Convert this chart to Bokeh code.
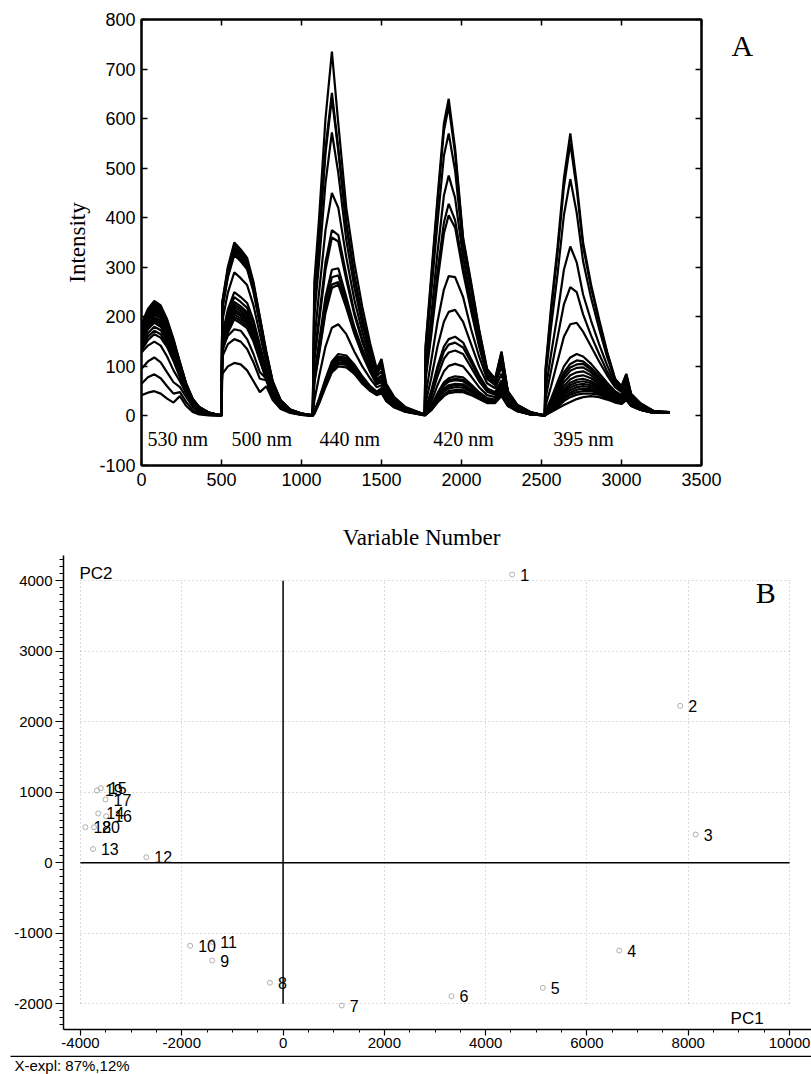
from bokeh.plotting import figure
from bokeh.models import (LinearAxis, FixedTicker, SingleIntervalTicker, Label, Range1d)
from bokeh.embed import file_html
from bokeh.resources import INLINE
from bokeh.core.properties import value

SANS = "Liberation Sans"
SERIF = "Liberation Serif"

# ---------------- Panel A data: fluorescence spectra of 20 samples ----------------
# variable-number grid of each excitation segment
x_530 = [0, 40, 80, 120, 160, 200, 240, 280, 320, 360, 420, 500]
x_500 = [505, 540, 580, 620, 660, 700, 740, 780, 820, 870, 930, 1000, 1070]
x_440 = [1080, 1110, 1150, 1190, 1230, 1280, 1330, 1380, 1430, 1470, 1500, 1530, 1580, 1650, 1770]
x_420 = [1775, 1810, 1850, 1890, 1920, 1960, 2010, 2060, 2110, 2160, 2210, 2250, 2290, 2350, 2430, 2520]
x_395 = [2525, 2560, 2600, 2640, 2680, 2720, 2760, 2810, 2860, 2910, 2960, 3000, 3030, 3060, 3120, 3200, 3300]

# intensities, one row per sample (1..20)
y_530 = [
    [42, 47, 50, 45, 35, 27, 40, 20, 8, 3, 1, 0],
    [65, 78, 84, 76, 60, 45, 48, 28, 12, 5, 2, 0],
    [95, 110, 118, 108, 88, 68, 58, 38, 18, 8, 3, 1],
    [128, 142, 150, 142, 120, 92, 70, 45, 22, 10, 4, 1],
    [132, 153, 165, 158, 139, 111, 78, 46, 25, 13, 5, 1],
    [138, 160, 172, 165, 144, 115, 81, 48, 26, 13, 5, 1],
    [144, 167, 180, 173, 151, 121, 85, 50, 27, 14, 5, 1],
    [150, 175, 188, 180, 158, 126, 88, 53, 28, 15, 6, 1],
    [154, 179, 192, 184, 161, 129, 90, 54, 29, 15, 6, 1],
    [157, 182, 196, 188, 165, 131, 92, 55, 29, 15, 6, 1],
    [160, 186, 200, 192, 168, 134, 94, 56, 30, 16, 6, 1],
    [164, 191, 205, 197, 172, 137, 96, 57, 31, 16, 6, 1],
    [166, 193, 208, 200, 175, 139, 98, 58, 31, 16, 6, 1],
    [170, 197, 212, 204, 178, 142, 100, 59, 32, 17, 6, 1],
    [172, 200, 215, 206, 181, 144, 101, 60, 32, 17, 6, 1],
    [174, 203, 218, 209, 183, 146, 102, 61, 33, 17, 7, 1],
    [178, 206, 222, 213, 186, 149, 104, 62, 33, 17, 7, 1],
    [180, 209, 225, 216, 189, 151, 106, 63, 34, 18, 7, 1],
    [182, 212, 228, 219, 192, 153, 107, 64, 34, 18, 7, 1],
    [186, 216, 232, 223, 195, 155, 109, 65, 35, 18, 7, 1],
]
y_500 = [
    [85, 100, 107, 104, 92, 70, 48, 60, 32, 14, 6, 2, 0],
    [120, 145, 155, 150, 135, 108, 75, 72, 40, 17, 7, 2, 0],
    [135, 162, 175, 172, 155, 125, 88, 75, 45, 19, 7, 3, 0],
    [129, 168, 195, 187, 177, 150, 111, 72, 39, 18, 7, 3, 1],
    [132, 172, 200, 192, 182, 154, 114, 74, 40, 18, 7, 3, 1],
    [135, 176, 205, 197, 187, 158, 117, 76, 41, 18, 8, 3, 1],
    [139, 181, 210, 202, 191, 162, 120, 78, 42, 19, 8, 3, 1],
    [142, 185, 215, 206, 196, 166, 123, 80, 43, 19, 8, 3, 1],
    [145, 189, 220, 211, 200, 169, 125, 81, 44, 20, 8, 3, 1],
    [149, 194, 225, 216, 205, 173, 128, 83, 45, 20, 8, 3, 1],
    [152, 198, 230, 221, 209, 177, 131, 85, 46, 21, 9, 3, 1],
    [158, 206, 240, 230, 218, 185, 137, 89, 48, 22, 9, 3, 1],
    [165, 215, 250, 240, 228, 193, 143, 93, 50, 23, 9, 4, 1],
    [191, 249, 290, 278, 264, 223, 165, 107, 58, 26, 11, 4, 1],
    [215, 280, 325, 312, 296, 250, 185, 120, 65, 29, 12, 5, 1],
    [218, 284, 330, 317, 300, 254, 188, 122, 66, 30, 12, 5, 1],
    [221, 288, 335, 322, 305, 258, 191, 124, 67, 30, 12, 5, 1],
    [224, 292, 340, 326, 309, 262, 194, 126, 68, 31, 13, 5, 1],
    [228, 297, 345, 331, 314, 266, 197, 128, 69, 31, 13, 5, 1],
    [231, 301, 350, 336, 319, 270, 200, 130, 70, 32, 13, 5, 1],
]
y_440 = [
    [200, 310, 470, 572, 490, 355, 260, 185, 125, 85, 100, 56, 33, 16, 3],
    [270, 400, 600, 735, 590, 420, 310, 220, 145, 95, 115, 65, 38, 18, 3],
    [240, 360, 540, 652, 540, 390, 285, 200, 135, 90, 110, 60, 35, 17, 3],
    [235, 350, 530, 642, 535, 385, 280, 198, 132, 88, 105, 58, 34, 16, 3],
    [150, 250, 375, 450, 420, 320, 235, 170, 115, 80, 90, 52, 30, 15, 3],
    [120, 200, 310, 375, 365, 285, 210, 155, 105, 74, 82, 48, 28, 14, 2],
    [110, 190, 295, 360, 352, 275, 205, 150, 102, 72, 80, 47, 27, 14, 2],
    [80, 150, 240, 295, 298, 240, 180, 135, 95, 68, 75, 44, 26, 13, 2],
    [75, 140, 228, 280, 284, 230, 175, 130, 92, 66, 72, 43, 25, 13, 2],
    [70, 130, 215, 265, 270, 222, 170, 126, 90, 65, 70, 42, 25, 12, 2],
    [65, 125, 208, 258, 265, 218, 166, 124, 88, 64, 68, 41, 24, 12, 2],
    [30, 80, 140, 178, 185, 165, 130, 100, 75, 58, 62, 38, 22, 11, 2],
    [8, 35, 75, 110, 125, 122, 104, 80, 60, 49, 56, 35, 20, 10, 2],
    [7, 32, 72, 106, 120, 118, 100, 77, 58, 48, 54, 34, 20, 10, 2],
    [7, 31, 70, 104, 118, 116, 98, 76, 57, 47, 53, 33, 19, 10, 2],
    [6, 30, 68, 101, 115, 113, 96, 74, 56, 46, 52, 33, 19, 9, 2],
    [6, 29, 66, 98, 112, 110, 94, 72, 55, 45, 51, 32, 19, 9, 2],
    [5, 28, 63, 95, 108, 106, 91, 70, 53, 44, 50, 31, 18, 9, 2],
    [5, 27, 61, 92, 105, 103, 88, 68, 52, 43, 48, 31, 18, 9, 1],
    [4, 25, 58, 88, 100, 98, 85, 65, 50, 42, 46, 30, 17, 8, 1],
]
y_420 = [
    [140, 280, 440, 590, 640, 540, 360, 270, 175, 95, 75, 130, 50, 22, 8, 1],
    [135, 272, 430, 575, 625, 530, 355, 265, 172, 93, 74, 128, 49, 22, 8, 1],
    [120, 245, 390, 525, 570, 495, 340, 255, 165, 90, 72, 122, 48, 21, 8, 1],
    [95, 200, 330, 445, 485, 440, 320, 235, 155, 86, 70, 115, 46, 20, 7, 1],
    [80, 170, 290, 390, 428, 395, 300, 220, 145, 82, 68, 110, 45, 20, 7, 1],
    [72, 160, 272, 368, 405, 380, 290, 212, 140, 80, 66, 108, 44, 19, 7, 1],
    [40, 110, 190, 255, 282, 280, 240, 175, 120, 75, 62, 100, 40, 18, 6, 1],
    [25, 75, 140, 190, 210, 214, 190, 145, 100, 66, 56, 85, 36, 16, 6, 1],
    [14, 50, 100, 140, 155, 160, 148, 115, 82, 56, 48, 72, 32, 15, 5, 1],
    [12, 45, 92, 130, 144, 148, 138, 108, 77, 53, 46, 68, 30, 14, 5, 1],
    [10, 38, 80, 115, 128, 132, 125, 98, 70, 49, 43, 64, 28, 13, 5, 1],
    [6, 28, 62, 90, 101, 105, 100, 80, 58, 42, 38, 58, 26, 12, 4, 1],
    [4, 20, 46, 68, 76, 80, 78, 64, 48, 36, 33, 52, 24, 11, 4, 1],
    [4, 18, 43, 64, 72, 75, 73, 60, 45, 34, 32, 50, 23, 11, 4, 1],
    [3, 17, 41, 61, 69, 72, 70, 58, 44, 33, 31, 48, 22, 11, 4, 1],
    [3, 15, 37, 55, 62, 65, 64, 53, 41, 31, 30, 46, 22, 10, 3, 1],
    [3, 14, 35, 52, 59, 62, 61, 51, 40, 30, 29, 45, 21, 10, 3, 1],
    [2, 13, 33, 49, 55, 58, 57, 48, 38, 29, 28, 44, 21, 10, 3, 1],
    [2, 12, 29, 44, 50, 52, 52, 44, 35, 27, 27, 42, 20, 10, 3, 1],
    [2, 11, 27, 40, 46, 48, 48, 42, 34, 26, 26, 40, 20, 9, 3, 1],
]
y_395 = [
    [95, 220, 340, 480, 570, 470, 350, 265, 195, 130, 75, 60, 85, 45, 25, 10, 8],
    [90, 210, 328, 462, 550, 458, 342, 258, 190, 127, 74, 59, 84, 44, 25, 10, 8],
    [75, 180, 285, 405, 478, 410, 312, 238, 176, 119, 71, 57, 80, 43, 24, 10, 8],
    [50, 125, 205, 295, 342, 310, 245, 192, 145, 102, 66, 53, 74, 40, 22, 9, 7],
    [35, 92, 158, 225, 260, 250, 205, 162, 125, 90, 62, 50, 70, 38, 21, 9, 7],
    [20, 60, 110, 160, 185, 188, 170, 140, 110, 82, 58, 48, 65, 36, 20, 9, 7],
    [10, 35, 68, 100, 118, 125, 120, 105, 86, 67, 50, 42, 58, 32, 18, 8, 7],
    [8, 30, 60, 88, 105, 112, 110, 97, 80, 63, 48, 40, 55, 31, 17, 8, 7],
    [7, 28, 55, 82, 98, 104, 105, 93, 77, 61, 46, 39, 53, 30, 17, 8, 7],
    [6, 25, 50, 76, 91, 97, 98, 88, 73, 58, 44, 37, 51, 29, 16, 8, 7],
    [5, 22, 45, 68, 82, 88, 90, 82, 69, 55, 42, 35, 48, 28, 16, 7, 6],
    [5, 20, 40, 60, 74, 80, 82, 76, 65, 52, 40, 33, 46, 27, 15, 7, 6],
    [4, 18, 36, 54, 67, 73, 75, 70, 61, 49, 38, 32, 44, 26, 15, 7, 6],
    [4, 16, 33, 50, 62, 68, 70, 66, 58, 47, 36, 31, 42, 25, 14, 7, 6],
    [3, 15, 30, 46, 57, 63, 65, 62, 55, 45, 35, 30, 40, 24, 14, 7, 6],
    [3, 13, 27, 42, 52, 58, 60, 58, 52, 43, 33, 28, 38, 23, 13, 6, 6],
    [3, 12, 24, 38, 47, 53, 55, 54, 49, 41, 32, 27, 36, 22, 13, 6, 6],
    [2, 10, 21, 34, 43, 48, 50, 50, 46, 38, 30, 26, 34, 21, 12, 6, 6],
    [2, 9, 18, 30, 38, 43, 45, 45, 43, 36, 29, 25, 33, 20, 12, 6, 6],
    [2, 8, 15, 22, 28, 34, 38, 40, 38, 33, 27, 24, 32, 20, 12, 6, 6],
]

wavelength_labels = ["530 nm", "500 nm", "440 nm", "420 nm", "395 nm"]
wavelength_label_x = [37, 562, 1112, 1823, 2573]
wavelength_label_y = [-46, -46, -46, -46, -46]

a_xticks = [0, 500, 1000, 1500, 2000, 2500, 3000, 3500]
a_yticks = [-100, 0, 100, 200, 300, 400, 500, 600, 700, 800]
panel_a_letter = "A"
panel_a_letter_y = 748

# ---------------- Panel B data: PCA scores ----------------
sample_labels = [str(i) for i in range(1, 21)]
pc1 = [4523, 7841, 8146, 6637, 5128, 3325, 1158, -260, -1399, -1835,
       -1400, -2700, -3754, -3650, -3598, -3494, -3507, -3904, -3676, -3734]
pc2 = [4089, 2227, 401, -1244, -1773, -1892, -2024, -1702, -1386, -1177,
       -1120, 80, 195, 700, 1058, 661, 898, 505, 1026, 505]
b_xticks_neg = {-4000: "-4000", -2000: "-2000"}
b_yticks_neg = {-1000: "-1000", -2000: "-2000"}
explained_text = "X-expl: 87%,12%"
b_x_start, b_x_end = -4336, 10434

# ---------------- build curves ----------------
seg_x = [x_530, x_500, x_440, x_420, x_395]
seg_y = [y_530, y_500, y_440, y_420, y_395]
curve_xs, curve_ys = [], []
for i in range(len(sample_labels)):
    cx, cy = [], []
    for sx, sy in zip(seg_x, seg_y):
        cx += sx
        cy += sy[i]
    curve_xs.append(cx)
    curve_ys.append(cy)

# ---------------- Panel A ----------------
pA = figure(width=811, height=552, x_range=Range1d(0, 3500), y_range=Range1d(-100, 800),
            output_backend="svg", toolbar_location=None,
            min_border_left=141, min_border_right=110, min_border_top=19, min_border_bottom=87)
pA.grid.visible = False
pA.outline_line_color = "black"
pA.outline_line_width = 2
pA.multi_line(xs=curve_xs, ys=curve_ys, line_color="black", line_width=2.2)

pA.text(x=wavelength_label_x, y=wavelength_label_y, text=wavelength_labels,
        text_font=value(SERIF), text_font_size="20px", text_color="black",
        text_baseline="alphabetic", text_align="left")

pA.xaxis.ticker = FixedTicker(ticks=a_xticks)
pA.yaxis.ticker = FixedTicker(ticks=a_yticks)
for ax in (pA.xaxis[0], pA.yaxis[0]):
    ax.axis_line_color = "black"
    ax.axis_line_width = 2
    ax.major_tick_in = 6
    ax.major_tick_out = 0
    ax.major_tick_line_width = 1.5
    ax.major_tick_line_color = "black"
    ax.minor_tick_line_color = None
    ax.major_label_text_font = SANS
    ax.major_label_text_font_size = "18px"
    ax.major_label_text_color = "black"
    ax.axis_label_text_font = SERIF
    ax.axis_label_text_font_size = "23px"
    ax.axis_label_text_font_style = "normal"
    ax.axis_label_text_color = "black"
pA.xaxis.axis_label = "Variable Number"
pA.yaxis.axis_label = "Intensity"
pA.xaxis.major_label_standoff = 7
pA.yaxis.major_label_standoff = 6
pA.xaxis.axis_label_standoff = 36
pA.yaxis.axis_label_standoff = 6
pA.yaxis.major_label_overrides = {-100: "-100"}


def tick_only_axis(ticks):
    return LinearAxis(ticker=FixedTicker(ticks=ticks), major_label_text_color=None,
                      major_label_text_font_size="1px", major_label_standoff=0,
                      major_tick_in=6, major_tick_out=0, major_tick_line_width=1.5,
                      minor_tick_line_color=None, axis_line_width=2)


pA.add_layout(tick_only_axis(a_xticks), "above")
pA.add_layout(tick_only_axis(a_yticks), "right")
letter_ax = LinearAxis(ticker=FixedTicker(ticks=[panel_a_letter_y]),
                       major_label_overrides={panel_a_letter_y: panel_a_letter},
                       axis_line_color=None, major_tick_line_color=None,
                       minor_tick_line_color=None, major_tick_out=0, major_tick_in=0,
                       major_label_standoff=30, major_label_text_font=SERIF,
                       major_label_text_font_size="30px", major_label_text_color="black",
                       major_label_orientation="horizontal")
pA.add_layout(letter_ax, "right")

# ---------------- Panel B ----------------
pB = figure(width=811, height=503, x_range=Range1d(b_x_start, b_x_end),
            y_range=Range1d(-2364, 4359),
            output_backend="svg", toolbar_location=None,
            min_border_left=63, min_border_right=0, min_border_top=3, min_border_bottom=26)
pB.outline_line_color = None

pB.xaxis.ticker = SingleIntervalTicker(interval=2000, num_minor_ticks=4)
pB.yaxis.ticker = SingleIntervalTicker(interval=1000, num_minor_ticks=10)
for ax in (pB.xaxis[0], pB.yaxis[0]):
    ax.axis_line_color = "black"
    ax.axis_line_width = 1.5
    ax.major_tick_in = 0
    ax.major_tick_line_color = "black"
    ax.major_tick_line_width = 1.2
    ax.minor_tick_in = 0
    ax.minor_tick_line_color = "black"
    ax.minor_tick_line_width = 1
    ax.major_label_text_font = SANS
    ax.major_label_text_font_size = "15px"
    ax.major_label_text_color = "black"
    ax.major_label_standoff = 3
pB.xaxis.major_tick_out = 6
pB.xaxis.minor_tick_out = 3
pB.xaxis.major_label_standoff = 2
pB.yaxis.major_tick_out = 8
pB.yaxis.minor_tick_out = 4
pB.xaxis.major_label_overrides = b_xticks_neg
pB.yaxis.major_label_overrides = b_yticks_neg

pB.xgrid.ticker = SingleIntervalTicker(interval=2000)
pB.ygrid.ticker = SingleIntervalTicker(interval=1000)
pB.xgrid.cross_bounds = (-2000, 4000)
pB.ygrid.cross_bounds = (-4000, 10000)
pB.ygrid.bounds = (-2000, 4000)
for g in (pB.xgrid[0], pB.ygrid[0]):
    g.grid_line_color = "#b5b5b5"
    g.grid_line_dash = "1 3"
    g.grid_line_width = 1

pB.segment(x0=[0, -4000], y0=[-2000, 0], x1=[0, 10000], y1=[4000, 0],
           line_color="black", line_width=1.5)

pB.scatter(x=pc1, y=pc2, marker="circle", size=5, fill_color=None,
           line_color="#9a9a9a", line_width=0.8)
pB.text(x=pc1, y=pc2, text=sample_labels, x_offset=8, text_baseline="middle",
        text_align="left", text_font=value(SANS), text_font_size="16px", text_color="black")

pB.add_layout(Label(x=-4021, y=4103, text="PC2", text_font=SANS, text_font_size="17px",
                    text_align="left", text_baseline="alphabetic", text_color="black"))
pB.add_layout(Label(x=9490, y=-2209, text="PC1", text_font=SANS, text_font_size="17px",
                    text_align="right", text_baseline="alphabetic", text_color="black"))
pB.add_layout(Label(x=9331, y=3834, text="B", text_font=SERIF, text_font_size="30px",
                    text_align="left", text_baseline="alphabetic", text_color="black"))

# ---------------- caption strip under panel B (pixel units) ----------------
pC = figure(width=811, height=19, x_range=Range1d(0, 811), y_range=Range1d(0, 19),
            output_backend="svg", toolbar_location=None,
            x_axis_location=None, y_axis_location=None,
            min_border_left=0, min_border_right=0, min_border_top=0, min_border_bottom=0)
pC.grid.visible = False
pC.outline_line_color = None
pC.segment(x0=[10], y0=[18.2], x1=[811], y1=[18.2], line_color="black", line_width=1.5)
pC.text(x=[14], y=[9], text=[explained_text], text_font=value(SANS), text_font_size="15px",
        text_color="black", text_baseline="middle", text_align="left")

open("out.html", "w").write(file_html([pA, pB, pC], INLINE))
